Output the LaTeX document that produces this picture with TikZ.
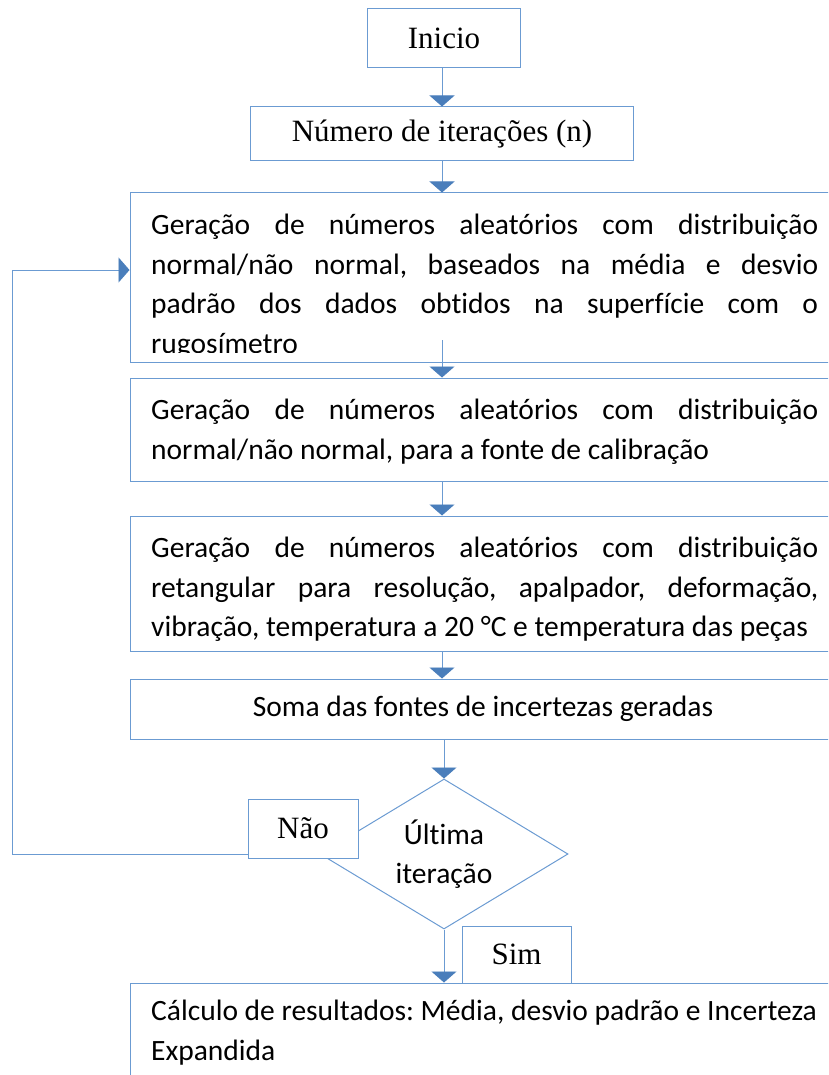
\documentclass[tikz,border=0pt]{standalone}
\usepackage{fontspec}
\setmainfont{Liberation Serif}
\newfontfamily\calib[Ligatures=NoCommon]{Carlito}
\usepackage{xcolor}
\usetikzlibrary{arrows.meta,shapes.geometric,positioning}
\definecolor{boxblue}{HTML}{6B9BD2}
\definecolor{tipblue}{HTML}{4A7EBB}
\newcommand{\jline}[1]{\makebox[667pt][s]{#1}}
\frenchspacing

\begin{document}
\begin{tikzpicture}[x=1pt, y=-1pt,
  every node/.style={inner sep=0pt},
  flowbox/.style={draw=boxblue, line width=1pt, fill=white, rectangle},
  serif/.style={font=\fontsize{31}{36}\selectfont},
  sans/.style={font=\calib\fontsize{29.5}{39.5}\selectfont},
  flowtxt/.style={sans, align=left, anchor=north west,
                  execute at begin node={\rule{0pt}{25pt}}},
  flow/.style={draw=boxblue, line width=0.9pt,
               -{Triangle[width=25pt, length=11pt, color=tipblue]}}]

%% ── Page: 1pt = 1px of the 828x1075 sheet, y downwards ──────────────────────
\useasboundingbox (0,0) rectangle (828,1075);
\clip (0,0) rectangle (828,1075);

%% ── Start ────────────────────────────────────────────────────────────────────
\node[flowbox, serif, minimum width=153pt, minimum height=59pt] (inicio)
  at (444,38.5) {Inicio};
\node[flowbox, serif, minimum width=383pt, minimum height=54pt] (niter)
  at (442,134) {Número de iterações (n)};

%% ── Boxes (right edge runs off the page) ─────────────────────────────────────
\node[flowbox, minimum width=706pt, minimum height=169pt] (gnormal) at (483,277.5) {};
\node[flowbox, minimum width=706pt, minimum height=103pt] (gcalib)  at (483,429.5) {};
\node[flowbox, minimum width=706pt, minimum height=135pt] (gretang) at (483,583.5) {};
\node[flowbox, sans, minimum width=706pt, minimum height=60pt] (soma) at (483,709)
  {Soma das fontes de incertezas geradas};
\node[flowbox, minimum width=706pt, minimum height=107pt] (calc) at (483,1036.5) {};

%% Text of the boxes (box 1 overflows and is cut off)
\begin{scope}
  \clip (130,193) rectangle (836,352);
  \node[flowtxt] (gnormaltxt) at (151,214)
    {\jline{Geração de números aleatórios com distribuição}\\
     \jline{normal/não normal, baseados na média e desvio}\\
     \jline{padrão dos dados obtidos na superfície com o}\\
     rugosímetro};
\end{scope}
\node[flowtxt] (gcalibtxt) at (151,399)
  {\jline{Geração de números aleatórios com distribuição}\\
   normal/não normal, para a fonte de calibração};
\node[flowtxt] (gretangtxt) at (151,537)
  {\jline{Geração de números aleatórios com distribuição}\\
   \jline{retangular para resolução, apalpador, deformação,}\\
   vibração, temperatura a 20 °C e temperatura das peças};
\node[flowtxt] (calctxt) at (151,1000)
  {Cálculo de resultados: Média, desvio padrão e Incerteza\\
   Expandida};

%% ── Decision ─────────────────────────────────────────────────────────────────
\node[draw=boxblue, line width=1pt, diamond, aspect=1.65, sans, align=center,
      minimum width=248pt, minimum height=150pt] (ultima) at (444,854)
  {Última\\iteração};

%% ── Arrows ───────────────────────────────────────────────────────────────────
\coordinate (g3out) at (442,340);
\coordinate (loopcorner) at (12,270);
\draw[flow] (inicio.south -| niter.south) -- (niter.north);
\draw[flow] (niter.south) -- (niter.south |- gnormal.north);
\draw[flow] (g3out) -- (g3out |- gcalib.north);
\draw[flow] (gcalib.south -| niter.south) -- (niter.south |- gretang.north);
\draw[flow] (gretang.south -| niter.south) -- (niter.south |- soma.north);
\draw[flow] (soma.south -| ultima.north) -- (ultima.north);
\draw[flow] (ultima.south) -- (ultima.south |- calc.north);
\draw[flow] (ultima.west) -| (loopcorner) -- (loopcorner -| gnormal.west);

%% ── Branch labels ────────────────────────────────────────────────────────────
\node[flowbox, serif, minimum width=110pt, minimum height=59pt] (nao) at (303,828.5) {Não};
\node[flowbox, serif, minimum width=109pt, minimum height=57pt] (sim) at (516.5,954.5) {Sim};

\end{tikzpicture}
\end{document}
